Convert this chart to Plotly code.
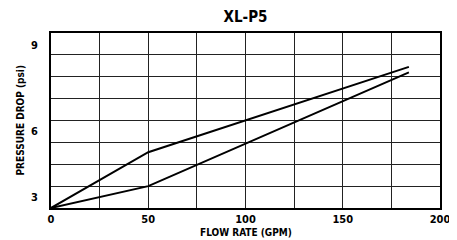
import plotly.graph_objects as go

# ---- data ----
flow_gpm = [0, 50, 184]
upper_psi = [2.0, 4.55, 8.45]
lower_psi = [2.0, 3.0, 8.2]

x_tick_vals = [0, 25, 50, 75, 100, 125, 150, 175, 200]
x_tick_text = ["0", "", "50", "", "100", "", "150", "", "200"]
y_grid_vals = [2, 3, 4, 5, 6, 7, 8, 9, 10]
y_label_pos = [2.48, 5.53, 9.45]
y_label_text = ["3", "6", "9"]

FONT = "DejaVu Sans Condensed, Liberation Sans Narrow, Liberation Sans, sans-serif"

# the page body adds an 8px margin, so the figure is sized to fit inside it
W, H = 449, 232

fig = go.Figure()
for ys in (upper_psi, lower_psi):
    fig.add_trace(go.Scatter(x=flow_gpm, y=ys, mode="lines",
                             line=dict(color="black", width=2),
                             showlegend=False, hoverinfo="skip"))
# invisible trace to activate label axis
fig.add_trace(go.Scatter(x=[0], y=[2], yaxis="y2", mode="markers",
                         marker=dict(opacity=0), showlegend=False, hoverinfo="skip"))

fig.update_layout(
    width=W, height=H,
    margin=dict(l=43, r=17, t=25, b=32, autoexpand=False),
    paper_bgcolor="white", plot_bgcolor="white",
    font=dict(family=FONT, color="black", size=11, weight="bold"),
    title=dict(text="XL-P5", x=0.5, xref="paper", y=1 - 9 / H, yref="container",
               xanchor="center", yanchor="middle",
               font=dict(family=FONT, size=15, weight="bold", color="black")),
    xaxis=dict(range=[0, 200], tickvals=x_tick_vals, ticktext=x_tick_text,
               showgrid=True, gridcolor="#222", gridwidth=1, automargin=False,
               showline=True, linecolor="black", linewidth=2, mirror=True,
               zeroline=False, ticks="", tickfont=dict(size=11, weight="bold")),
    yaxis=dict(range=[2, 10], tickvals=y_grid_vals, showticklabels=False,
               showgrid=True, gridcolor="#222", gridwidth=1, automargin=False,
               showline=True, linecolor="black", linewidth=2, mirror=True,
               zeroline=False, ticks=""),
    yaxis2=dict(range=[2, 10], overlaying="y", side="left", anchor="x",
                tickvals=y_label_pos, ticktext=y_label_text, showgrid=False,
                automargin=False, zeroline=False, showline=False,
                ticks="outside", ticklen=10, tickcolor="rgba(0,0,0,0)",
                tickfont=dict(size=11, weight="bold")),
    annotations=[
        dict(text="FLOW RATE (GPM)", xref="paper", yref="paper", x=0.5, y=0,
             yshift=-24, showarrow=False, xanchor="center", yanchor="middle",
             font=dict(family=FONT, size=10, weight="bold")),
        dict(text="PRESSURE DROP (psi)", xref="paper", yref="paper", x=0, y=0.5,
             xshift=-31, showarrow=False, textangle=-90, xanchor="center",
             yanchor="middle", font=dict(family=FONT, size=10, weight="bold")),
    ],
)

fig.write_html("out.html")
